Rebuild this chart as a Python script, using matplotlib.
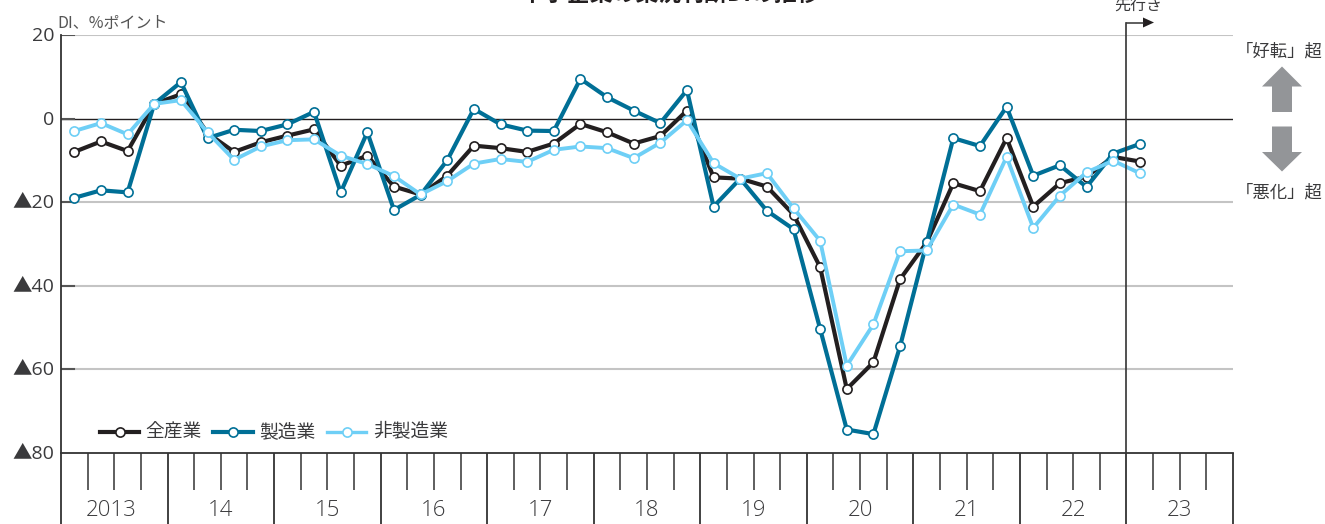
import matplotlib
matplotlib.use("Agg")
import matplotlib.pyplot as plt
from matplotlib.patches import Polygon
from matplotlib.lines import Line2D
from matplotlib.transforms import ScaledTranslation

plt.rcParams['font.family'] = ['Noto Sans CJK JP', 'DejaVu Sans']

W, H = 1325, 524
all_ind = [-8.0,-5.5,-7.8,3.5,5.8,-3.5,-8.0,-5.7,-4.1,-2.6,-11.3,-8.9,-16.3,-18.2,-13.7,-6.5,-7.1,-8.0,-6.0,-1.3,-3.3,-6.0,-4.2,1.9,-14.1,-14.4,-16.3,-23.0,-35.6,-64.8,-58.4,-38.5,-29.7,-15.5,-17.4,-4.7,-21.1,-15.5,-13.9,-9.2,-10.3]
mfg = [-19.0,-17.2,-17.7,3.5,8.7,-4.7,-2.7,-3.0,-1.4,1.6,-17.7,-3.3,-21.9,-18.3,-10.0,2.3,-1.4,-2.9,-3.0,9.5,5.1,1.9,-1.1,6.8,-21.1,-14.4,-22.1,-26.5,-50.4,-74.5,-75.6,-54.6,-29.7,-4.7,-6.6,2.8,-13.7,-11.2,-16.4,-8.4,-6.1]
nonmfg = [-3.0,-1.1,-3.8,3.5,4.4,-3.3,-9.9,-6.7,-5.2,-5.0,-8.9,-10.9,-13.8,-18.2,-15.0,-10.8,-9.7,-10.4,-7.5,-6.7,-7.1,-9.5,-5.8,-0.4,-10.7,-14.4,-13.1,-21.5,-29.3,-59.2,-49.3,-31.8,-31.6,-20.6,-23.0,-9.2,-26.2,-18.5,-12.9,-10.1,-13.1]
names = ['全産業', '製造業', '非製造業']
colors = ['#231f20', '#006f96', '#6ecff6']
years = ['2013', '14', '15', '16', '17', '18', '19', '20', '21', '22', '23']
yticks = [20, 0, -20, -40, -60, -80]
ylabels = ['20', '0', '▲20', '▲40', '▲60', '▲80']

TXT = '#3a3a3c'
fig = plt.figure(figsize=(W / 100, H / 100), dpi=100)
L, R, T, B = 61, 1233, 35, 452.5
ax = fig.add_axes([L / W, 1 - B / H, (R - L) / W, (B - T) / H])
ax.set_xlim(0, 44)
ax.set_ylim(-80, 20)
ax.patch.set_visible(False)
for s in ['top', 'right']:
    ax.spines[s].set_visible(False)
ax.spines['left'].set_color('#333333'); ax.spines['left'].set_linewidth(1.3)
ax.spines['bottom'].set_color('#333333'); ax.spines['bottom'].set_linewidth(1.3)
ax.set_xticks([])
ax.set_yticks(yticks)
ax.set_yticklabels(ylabels, fontsize=14, color=TXT, family=['Open Sans', 'Noto Sans CJK JP'])
ax.tick_params(axis='y', length=0, pad=5)
for lab in ax.get_yticklabels():
    lab.set_transform(lab.get_transform() + ScaledTranslation(0, 0.8 / 100, fig.dpi_scale_trans))

for v in yticks:
    if v in (0, -80):
        continue
    ax.axhline(v, color='#c4c4c4', lw=1.5, zorder=1)
ax.axhline(0, color='#231f20', lw=1.0, zorder=1)
for v in yticks[:-1]:
    ax.plot([0, 0.5], [v, v], color='#555555', lw=1.5, zorder=2)

xs = [i + 0.5 for i in range(len(all_ind))]
for vals, c, lw, z in [(mfg, colors[1], 3.0, 4), (all_ind, colors[0], 3.0, 3), (nonmfg, colors[2], 2.8, 5)]:
    ax.plot(xs, vals, color=c, lw=lw, marker='o', ms=6.6, mfc='white', mec=c, mew=1.2, zorder=z, clip_on=False)

trans = ax.get_xaxis_transform()
for q in range(0, 45):
    major = q % 4 == 0
    ylo = -(524 - 452.5) / (B - T) if major else -(490 - 452.5) / (B - T)
    ax.plot([q, q], [0, ylo], transform=trans, color='#333333', lw=1.3 if major else 1.1,
            clip_on=False, zorder=2, solid_capstyle='butt')
for i, y in enumerate(years):
    cx = 4 * i + 2 - (0.12 if i == 0 else 0)
    ax.text(cx, -(511 - 452.5) / (B - T), y, transform=trans, ha='center', va='center',
            fontsize=16, color=TXT, family=['Open Sans', 'DejaVu Sans'], fontweight='light')

px = lambda x, y: (x / W, 1 - y / H)
ax.plot([40, 40], [0, (452.5 - 22.5) / (B - T)], transform=trans, color='#333333', lw=1.2, clip_on=False, zorder=6)
fig.add_artist(Line2D([1126.5 / W, 1143 / W], [1 - 22.5 / H] * 2, color='#333333', lw=1.1))
fig.add_artist(Polygon([px(1143, 17.5), px(1154, 22.5), px(1143, 27.5)], closed=True, fc='#231f20', ec='none'))
fig.text(1138.5 / W, 1 - 6.5 / H, '先行き', ha='center', va='center', fontsize=11.5, color=TXT)

fig.text(57 / W, 1 - 23 / H, 'DI、%ポイント', ha='left', va='center', fontsize=11.5, color='#555555')
fig.text(670 / W, 1 - (-5.5) / H, '中小企業の業況判断DIの推移', ha='center', va='center', fontsize=16.5,
         color='#231f20', fontweight='bold')

for xa, xb, mx, c, lw, tx, n in [(100, 139, 119.5, colors[0], 3.0, 145, names[0]),
                                  (213, 253, 233, colors[1], 3.0, 259, names[1]),
                                  (327, 366, 346.5, colors[2], 2.4, 373, names[2])]:
    y = 432
    fig.add_artist(Line2D([xa / W, xb / W], [1 - y / H] * 2, color=c, lw=lw))
    fig.add_artist(Line2D([mx / W], [1 - y / H], marker='o', ms=6.6, mfc='white', mec=c, mew=1.2, ls='none'))
    fig.text(tx / W, 1 - 432 / H, n, ha='left', va='center', fontsize=13.5, color=TXT)

G = '#939598'
fig.text(1236 / W, 1 - 51.5 / H, '「好転」超', ha='left', va='center', fontsize=12.5, color=TXT)
fig.text(1236 / W, 1 - 192.5 / H, '「悪化」超', ha='left', va='center', fontsize=12.5, color=TXT)
fig.add_artist(Polygon([px(1282, 66.5), px(1302, 86.5), px(1292, 86.5), px(1292, 112), px(1272, 112), px(1272, 86.5), px(1262, 86.5)],
                       closed=True, fc=G, ec='none'))
fig.add_artist(Polygon([px(1282, 171.5), px(1302, 152), px(1292, 152), px(1292, 126.5), px(1272, 126.5), px(1272, 152), px(1262, 152)],
                       closed=True, fc=G, ec='none'))

fig.savefig('out.png', dpi=100)
